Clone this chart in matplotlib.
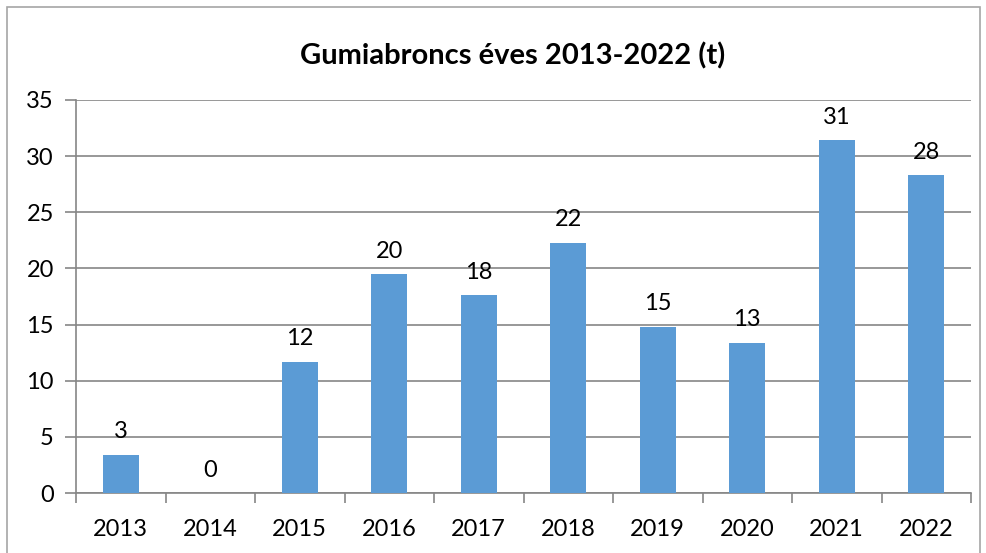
import numpy as np
import matplotlib.pyplot as plt
from matplotlib.patches import Rectangle

plt.rcParams['font.family'] = ['Lato', 'DejaVu Sans']

# data
years = ['2013', '2014', '2015', '2016', '2017', '2018', '2019', '2020', '2021', '2022']
values = [3.4, 0.0, 11.7, 19.5, 17.6, 22.3, 14.8, 13.4, 31.4, 28.3]
labels = ['3', '0', '12', '20', '18', '22', '15', '13', '31', '28']
yticks = [0, 5, 10, 15, 20, 25, 30, 35]

W, H = 987, 553
fig = plt.figure(figsize=(W / 100, H / 100), dpi=100)
ax = fig.add_axes([76 / W, 1 - 493 / H, (971 - 76) / W, (493 - 100) / H])

# outer border of the chart frame
fig.patches.append(Rectangle((7 / W, -0.05), (980 - 7) / W, 1 - 7 / H + 0.05,
                             transform=fig.transFigure, fill=False,
                             edgecolor='#a6a6a6', linewidth=1.2))

x = np.arange(len(years))
ax.bar(x, values, width=0.4, color='#5b9bd5', zorder=3)
for xi, v, lab in zip(x, values, labels):
    ax.text(xi, v + 1.1, lab, ha='center', va='bottom', fontsize=17, color='black')

ax.set_xlim(-0.5, len(years) - 0.5)
ax.set_ylim(0, 35)
ax.set_yticks(yticks)
ax.set_xticks(x)
ax.set_xticklabels(years)
ax.set_xticks(np.arange(len(years) + 1) - 0.5, minor=True)
ax.tick_params(axis='x', which='major', length=0, pad=19, labelsize=17)
ax.tick_params(axis='x', which='minor', length=7, color='#868686', width=1.2)
ax.tick_params(axis='y', length=8, color='#868686', width=1.2, pad=8, labelsize=17)

ax.grid(axis='y', color='#868686', linewidth=1.2, zorder=0)
for s in ['top', 'right']:
    ax.spines[s].set_visible(False)
ax.spines['left'].set_color('#868686')
ax.spines['bottom'].set_color('#868686')
ax.spines['left'].set_linewidth(1.2)
ax.spines['bottom'].set_linewidth(1.2)

fig.text(513 / W, 1 - 56 / H, 'Gumiabroncs éves 2013-2022 (t)', ha='center', va='center',
         fontsize=21, fontweight='bold')

fig.savefig('out.png', dpi=100)
